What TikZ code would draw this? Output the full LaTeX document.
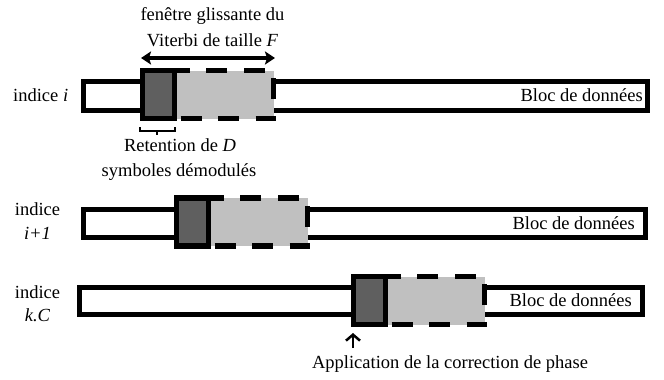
\documentclass[tikz,border=0pt]{standalone}
\usepackage{fontspec}
\setmainfont{Liberation Serif}
\usetikzlibrary{arrows.meta}
\definecolor{darkfill}{HTML}{5F5F5F}
\definecolor{lightfill}{HTML}{C0C0C0}
\begin{document}
\begin{tikzpicture}[x=1pt,y=-1pt,
  lbl/.style={font=\fontsize{18.5}{25}\selectfont, inner sep=0pt, anchor=base},
  barbox/.style={draw=black, line width=5pt, fill=white, inner sep=0pt},
  darkbox/.style={draw=black, line width=5.5pt, fill=darkfill, inner sep=0pt,
                  minimum width=32pt, minimum height=48pt},
  grayfill/.style={fill=lightfill},
  dashwin/.style={draw=black, line width=5.5pt, dash pattern=on 21pt off 16.5pt, dash phase=34pt},
  bigarrow/.style={line width=4pt, {Stealth[length=10pt,width=13pt,inset=2pt]}-{Stealth[length=10pt,width=13pt,inset=2pt]}},
  smallarrow/.style={line width=2.5pt, -{Straight Barb[length=6pt,width=14pt]}},
  bracket/.style={line width=2pt}
]
\useasboundingbox (0,0) rectangle (664,380);

% ---------- row 1 ----------
\node[barbox, minimum width=564pt, minimum height=29pt] (bar1) at (365.5,96) {};
\fill[grayfill] (174.5,70.5) rectangle (273.5,118.5);
\draw[dashwin] (177,118.5) -- (273.5,118.5) -- (273.5,70.5) -- (177,70.5);
\node[darkbox] (d1) at (158.5,94.5) {};

% ---------- row 2 ----------
\node[barbox, minimum width=562pt, minimum height=28pt] (bar2) at (364.5,223.5) {};
\fill[grayfill] (208.5,198) rectangle (307.5,246);
\draw[dashwin] (211,246) -- (307.5,246) -- (307.5,198) -- (211,198);
\node[darkbox] (d2) at (192.5,222) {};

% ---------- row 3 ----------
\node[barbox, minimum width=563pt, minimum height=27pt] (bar3) at (361,301) {};
\fill[grayfill] (385.5,276.5) rectangle (484.5,324.5);
\draw[dashwin] (388,324.5) -- (484.5,324.5) -- (484.5,276.5) -- (388,276.5);
\node[darkbox] (d3) at (369.5,300.5) {};

% ---------- texts ----------
\node[lbl] (t1) at (212.5,20.5) {fenêtre glissante du};
\node[lbl] (t2) at (212.5,46) {Viterbi de taille \textit{F}};
\node[lbl, anchor=base west] (ind1) at (13,101.5) {indice \textit{i}};
\node[lbl] (ret1) at (180,151.5) {Retention de \textit{D}};
\node[lbl] (ret2) at (179,176.5) {symboles démodulés};
\node[lbl, anchor=base east] (bloc1) at (643,101.5) {Bloc de données};
\node[lbl, anchor=base east] (bloc2) at (635,229) {Bloc de données};
\node[lbl, anchor=base east] (bloc3) at (632,306.7) {Bloc de données};
\node[lbl] (ind2a) at (37.5,215) {indice};
\node[lbl] (ind2b) at (37.5,239.3) {\textit{i+1}};
\node[lbl] (ind3a) at (37.5,298.3) {indice};
\node[lbl] (ind3b) at (37.5,321.7) {\textit{k.C}};
\node[lbl] (app) at (450,368) {Application de la correction de phase};

% ---------- arrows and bracket ----------
\coordinate (fl) at (141,58);
\coordinate (fr) at (275,58);
\draw[bigarrow] (fl) -- (fr);

\coordinate (apptail) at (353,348);
\coordinate (apptip) at (353,333);
\draw[smallarrow] (apptail) -- (apptip);

\coordinate (bl) at (139.5,127);
\coordinate (br) at (174.5,127);
\coordinate (bm) at (157,130.5);
\draw[bracket] (bl) -- (bl |- bm) -- (br |- bm) -- (br);
\draw[bracket] (bm) -- ++(0,4);
\end{tikzpicture}
\end{document}
